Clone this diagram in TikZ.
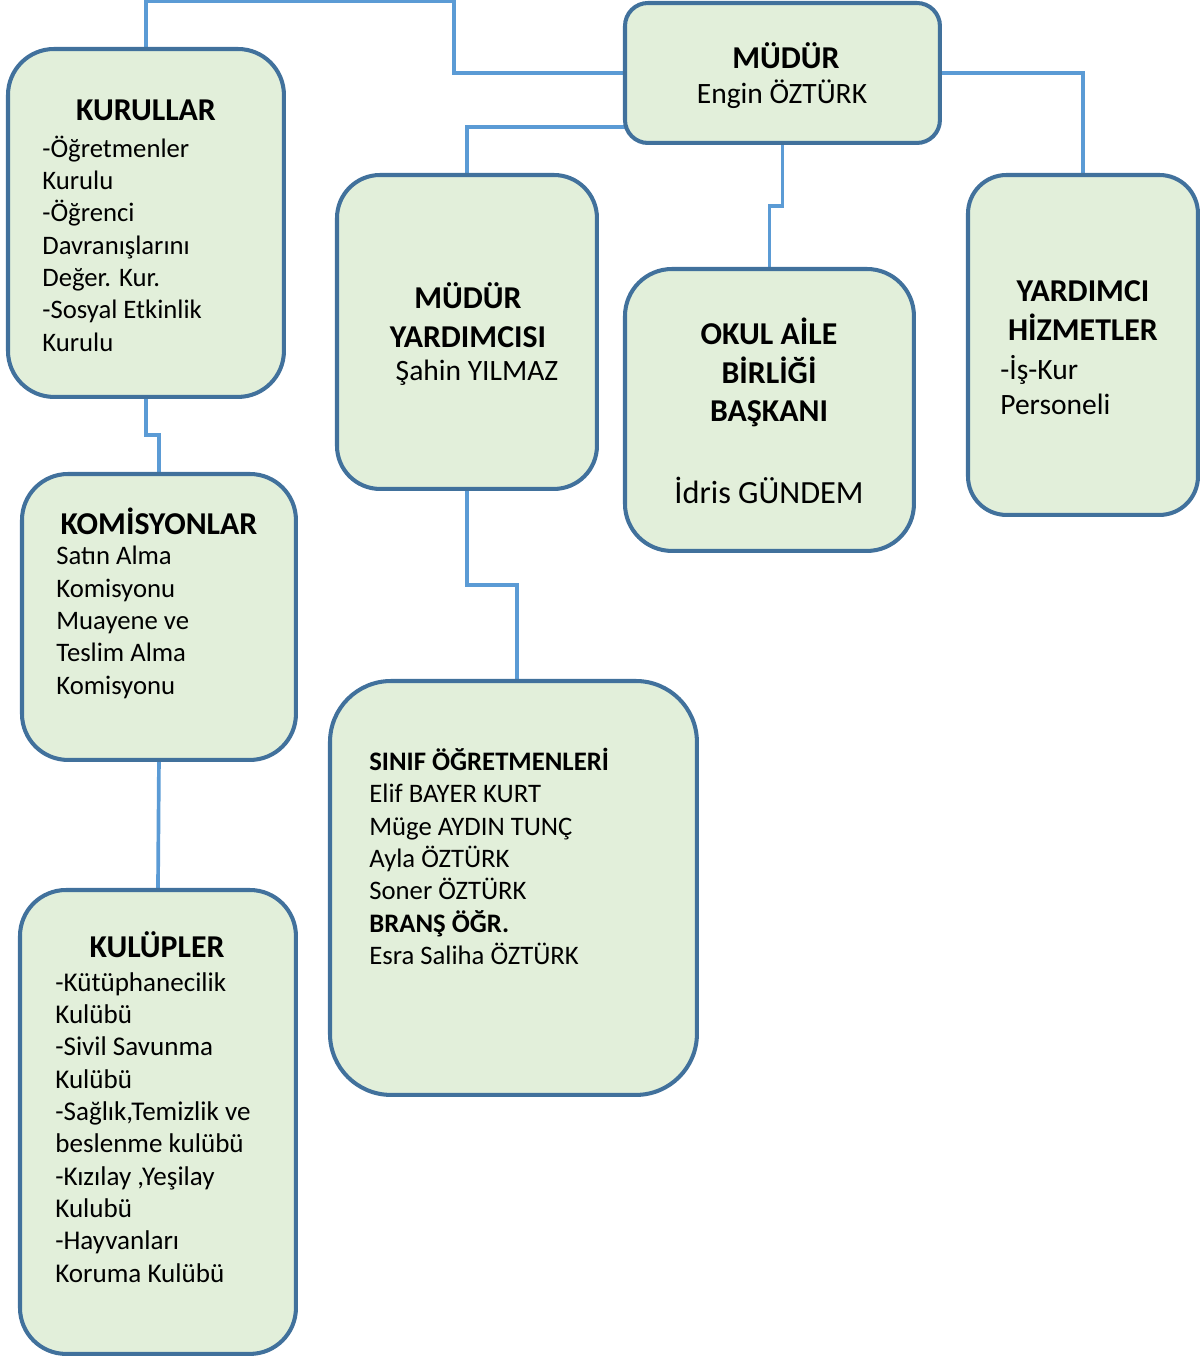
\documentclass[tikz,border=0pt]{standalone}
\usepackage{fontspec}
\setmainfont{Carlito}
\usetikzlibrary{backgrounds}
\definecolor{boxfill}{HTML}{E2EFDA}
\definecolor{boxline}{HTML}{41719C}
\definecolor{linkblue}{HTML}{5B9BD5}
\begin{document}
\begin{tikzpicture}[x=0.02cm, y=-0.02cm,
    box/.style={draw=boxline, fill=boxfill, line width=2.3pt, rounded corners=0.92cm,
        anchor=north west, inner sep=0pt, outer sep=0pt},
    link/.style={draw=linkblue, line width=2.1pt},
    head/.style={font=\fontsize{18.1}{22.1}\selectfont\bfseries, align=center, inner sep=0pt},
    body/.style={font=\fontsize{15.2}{18.4}\selectfont, align=left, anchor=west, inner sep=0pt},
    bigbody/.style={font=\fontsize{16.8}{20.4}\selectfont, align=left, inner sep=0pt}]
    \useasboundingbox (0,0) rectangle (1202,1356);
    % kutular
    \node [box, minimum width=6.3cm, minimum height=2.8cm, rounded corners=0.46cm] (mudur) at (625,3) {};
    \node [box, minimum width=5.52cm, minimum height=6.96cm] (kurullar) at (8,49) {};
    \node [box, minimum width=5.2cm, minimum height=6.28cm, rounded corners=0.86cm] (yardimcisi) at (337,175) {};
    \node [box, minimum width=5.78cm, minimum height=5.64cm, rounded corners=0.94cm] (aile) at (625,269) {};
    \node [box, minimum width=4.6cm, minimum height=6.8cm, rounded corners=0.77cm] (hizmet) at (968,175) {};
    \node [box, minimum width=5.48cm, minimum height=5.72cm] (komisyon) at (22,474) {};
    \node [box, minimum width=7.34cm, minimum height=8.28cm, rounded corners=1.22cm] (ogretmen) at (330,681) {};
    \node [box, minimum width=5.52cm, minimum height=9.28cm] (kulup) at (20,890) {};
    % baglantilar
    \begin{scope}[on background layer]
        \draw [link] (mudur.west) -| (454,1) -| (kurullar.north);
        \draw [link] ([yshift=0.32cm]mudur.south west) -| (yardimcisi.north);
        \draw [link] (mudur.south) -- ++(0,63) -| (aile.north);
        \draw [link] (mudur.east) -| (hizmet.north);
        \draw [link] (kurullar.south) -- ++(0,38) -| (komisyon.north);
        \draw [link] (komisyon.south) -- (kulup.north);
        \draw [link] (yardimcisi.south) -- ++(0,96) -| ([xshift=0.07cm]ogretmen.north);
    \end{scope}
    % yazilar
    \node [head] (mudurT) at (786,56) {MÜDÜR};
    \node [bigbody] (mudurB) at (782,94) {Engin ÖZTÜRK};
    \node [head] (kurullarT) at (146,110) {KURULLAR};
    \node [body] (kurullarB) at (42,243.5) {-Öğretmenler\\Kurulu\\-Öğrenci\\Davranışlarını\\Değer. Kur.\\-Sosyal Etkinlik\\Kurulu};
    \node [head] (yardimcisiT) at (468,315.5) {MÜDÜR\\YARDIMCISI};
    \node [bigbody] (yardimcisiB) at (477,373) {Şahin YILMAZ};
    \node [head] (aileT) at (769,372.5) {OKUL AİLE\\BİRLİĞİ\\BAŞKANI};
    \node [bigbody, font=\fontsize{18.4}{20}\selectfont] (aileB) at (769,490) {İdris GÜNDEM};
    \node [head] (hizmetT) at (1083,310.5) {YARDIMCI\\HİZMETLER};
    \node [bigbody, anchor=west] (hizmetB) at (1000,385) {-İş-Kur\\Personeli};
    \node [head] (komisyonT) at (159,521) {KOMİSYONLAR};
    \node [body] (komisyonB) at (56,622.5) {Satın Alma\\Komisyonu\\Muayene ve\\Teslim Alma\\Komisyonu};
    \node [body] (ogretmenB) at (369,856.5) {\textbf{SINIF ÖĞRETMENLERİ}\\Elif BAYER KURT\\Müge AYDIN TUNÇ\\Ayla ÖZTÜRK\\Soner ÖZTÜRK\\\textbf{BRANŞ ÖĞR.}\\Esra Saliha ÖZTÜRK};
    \node [head] (kulupT) at (157,945) {KULÜPLER};
    \node [body, font=\fontsize{15.4}{18.4}\selectfont] (kulupB) at (55,1127.5) {-Kütüphanecilik\\Kulübü\\-Sivil Savunma\\Kulübü\\-Sağlık,Temizlik ve\\beslenme kulübü\\-Kızılay ,Yeşilay\\Kulubü\\-Hayvanları\\Koruma Kulübü};
\end{tikzpicture}
\end{document}
